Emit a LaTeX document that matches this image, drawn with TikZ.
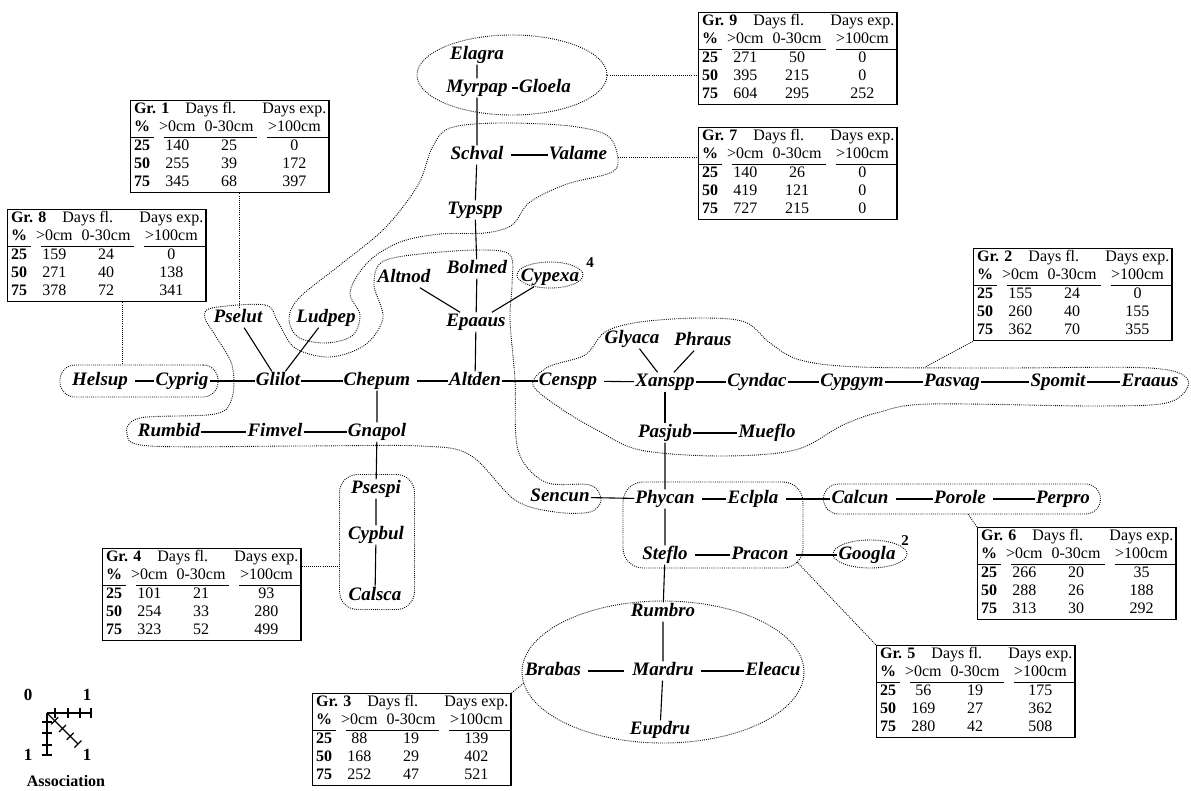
\documentclass[tikz,border=0pt]{standalone}
\usepackage{fontspec}
\setmainfont{Liberation Serif}
\usepackage{booktabs}
\usepackage{tikz}
\usetikzlibrary{shapes.geometric,calc}

% table of one group: number, then the rows for 25, 50 and 75 %
\newcommand{\grtab}[4]{%
  \setlength{\aboverulesep}{0pt}\setlength{\belowrulesep}{0pt}%
  \begin{tabular}{@{\hspace{3pt}}c@{\hspace{9pt}}c@{\hspace{9pt}}c@{\hspace{9pt}}c@{\hspace{2pt}}}
    \multicolumn{1}{@{\hspace{3pt}}l}{\rlap{\textbf{Gr. #1}}} & \multicolumn{2}{c}{Days fl.} & Days exp.\\
    \textbf{\%} & >0cm & 0-30cm & >100cm\\
    \cmidrule[1.3pt](r){1-1}\cmidrule[1.3pt](lr){2-3}\cmidrule[1.3pt](l){4-4}
    \textbf{25} & #2\\
    \textbf{50} & #3\\
    \textbf{75} & #4
  \end{tabular}}

\begin{document}
\begin{tikzpicture}[
    x=1pt, y=-1pt,
    sp/.style={font=\fontsize{19}{22}\selectfont\bfseries\itshape, inner sep=1pt, text height=13pt, text depth=4pt},
    sup/.style={font=\fontsize{15}{17}\selectfont\bfseries, inner sep=0pt},
    grtab/.style={draw, line width=1.1pt, inner sep=0.5pt, anchor=north west, font=\fontsize{16}{18}\selectfont},
    lnk/.style={line width=1.1pt},
    lgap/.style={shorten <=6pt},
    hull/.style={draw, line width=0.9pt, dash pattern=on 0.9pt off 1.2pt},
    lg/.style={font=\fontsize{17}{19}\selectfont\bfseries, inner sep=0pt}
]
\useasboundingbox (0,0) rectangle (1191,790);

% species
\node[sp] (Elagra) at (477,55) {Elagra};
\node[sp] (Myrpap) at (477,88) {Myrpap};
\node[sp] (Gloela) at (545,88) {Gloela};
\node[sp] (Schval) at (477,155) {Schval};
\node[sp] (Valame) at (578,155) {Valame};
\node[sp] (Typspp) at (475,210) {Typspp};
\node[sp] (Bolmed) at (477,269) {Bolmed};
\node[sp] (Altnod) at (404,278) {Altnod};
\node[sp] (Cypexa) at (550,277) {Cypexa};
\node[sup] (n4) at (590,263) {4};
\node[sp] (Epaaus) at (476,322) {Epaaus};
\node[sp] (Pselut) at (238,318) {Pselut};
\node[sp] (Ludpep) at (326,318) {Ludpep};
\node[sp] (Helsup) at (100,381) {Helsup};
\node[sp] (Cyprig) at (182,381) {Cyprig};
\node[sp] (Glilot) at (278,381) {Glilot};
\node[sp] (Chepum) at (377,381) {Chepum};
\node[sp] (Altden) at (475,381) {Altden};
\node[sp] (Censpp) at (568,381) {Censpp};
\node[sp] (Glyaca) at (632,339) {Glyaca};
\node[sp] (Phraus) at (703,341) {Phraus};
\node[sp] (Xanspp) at (665,382) {Xanspp};
\node[sp] (Cyndac) at (757,382) {Cyndac};
\node[sp] (Cypgym) at (852,382) {Cypgym};
\node[sp] (Pasvag) at (952,382) {Pasvag};
\node[sp] (Spomit) at (1058,382) {Spomit};
\node[sp] (Eraaus) at (1150,382) {Eraaus};
\node[sp] (Rumbid) at (169,432) {Rumbid};
\node[sp] (Fimvel) at (275,432) {Fimvel};
\node[sp] (Gnapol) at (377,432) {Gnapol};
\node[sp] (Pasjub) at (665,433) {Pasjub};
\node[sp] (Mueflo) at (767,433) {Mueflo};
\node[sp] (Psespi) at (376,489) {Psespi};
\node[sp] (Cypbul) at (376,535) {Cypbul};
\node[sp] (Calsca) at (375,596) {Calsca};
\node[sp] (Sencun) at (560,497) {Sencun};
\node[sp] (Phycan) at (665,499) {Phycan};
\node[sp] (Eclpla) at (753,499) {Eclpla};
\node[sp] (Calcun) at (860,499) {Calcun};
\node[sp] (Porole) at (960,499) {Porole};
\node[sp] (Perpro) at (1063,499) {Perpro};
\node[sp] (Steflo) at (665,555) {Steflo};
\node[sp] (Pracon) at (760,555) {Pracon};
\node[sp] (Googla) at (867,555) {Googla};
\node[sup] (n2) at (905,541) {2};
\node[sp] (Rumbro) at (663,612) {Rumbro};
\node[sp] (Brabas) at (553,671) {Brabas};
\node[sp] (Mardru) at (663,671) {Mardru};
\node[sp] (Eleacu) at (773,671) {Eleacu};
\node[sp] (Eupdru) at (660,730) {Eupdru};

% links
\draw[lnk] (Elagra) -- (Myrpap) -- (Schval) -- (Typspp) -- (Bolmed) -- (Epaaus) -- (Altden);
\draw[lnk, shorten <=3pt] (Myrpap) -- (Gloela);
\draw[lnk, lgap] (Schval) -- (Valame);
\draw[lnk] (Altnod) -- (Epaaus) -- (Cypexa);
\draw[lnk] (Pselut) -- (Glilot) -- (Ludpep);
\draw[lnk, lgap] (Helsup) -- (Cyprig);
\draw[lnk] (Cyprig) -- (Glilot) -- (Chepum);
\draw[lnk, lgap] (Chepum) -- (Altden);
\draw[lnk] (Altden) -- (Censpp);
\draw[lnk, lgap] (Censpp) -- (Xanspp);
\draw[lnk] (Xanspp) -- (Cyndac) -- (Cypgym) -- (Pasvag) -- (Spomit) -- (Eraaus);
\draw[lnk] (Glyaca) -- (Xanspp) -- (Phraus);
\draw[lnk] (Xanspp) -- (Pasjub) -- (Mueflo);
\draw[lnk] (Chepum) -- (Gnapol) -- (Psespi) -- (Cypbul) -- (Calsca);
\draw[lnk] (Rumbid) -- (Fimvel) -- (Gnapol);
\draw[lnk] (Pasjub) -- (Phycan) -- (Steflo) -- (Rumbro) -- (Mardru) -- (Eupdru);
\draw[lnk] (Sencun) -- (Phycan);
\draw[lnk, lgap] (Phycan) -- (Eclpla);
\draw[lnk, lgap] (Eclpla) -- (Calcun);
\draw[lnk, lgap] (Calcun) -- (Porole);
\draw[lnk, lgap] (Porole) -- (Perpro);
\draw[lnk, lgap] (Steflo) -- (Pracon);
\draw[lnk, lgap] (Pracon) -- (Googla);
\draw[lnk, lgap, shorten >=7pt] (Brabas) -- (Mardru);
\draw[lnk, lgap] (Mardru) -- (Eleacu);

% groups
\node[hull, ellipse, minimum width=190, minimum height=80] (e9) at (512,75) {};
\node[hull, ellipse, minimum width=282, minimum height=142] (e3) at (663,672) {};
\node[hull, ellipse, minimum width=66, minimum height=26] (eCy) at (550,275) {};
\node[hull, ellipse, minimum width=74, minimum height=28] (eGo) at (870,554) {};
\node[hull, rounded corners=20, minimum width=180, minimum height=86] (r5) at (713,525) {};
\node[hull, rounded corners=18, minimum width=75, minimum height=135] (r4) at (377,542) {};
\node[hull, rounded corners=15, minimum width=277, minimum height=30] (r6) at (962,499) {};
\node[hull, rounded corners=15, minimum width=158, minimum height=32] (r8) at (139,381) {};
\draw[hull] plot[smooth cycle, tension=0.55] coordinates {
    (618,160) (608,136) (570,126) (500,123) (450,128) (432,148) (418,185) (385,228)
    (340,265) (300,297) (289,318) (298,337) (325,343) (352,336) (360,315) (350,292)
    (368,262) (400,242) (440,234) (485,233) (512,225) (530,202) (567,184) (610,173)};
\draw[hull] plot[smooth cycle, tension=0.55] coordinates {
    (212,308) (265,305) (278,322) (295,348) (330,357) (365,345) (383,318) (374,285)
    (382,262) (420,254) (480,250) (510,255) (512,285) (510,320) (515,380) (518,450)
    (545,482) (590,485) (601,500) (590,512) (555,512) (515,500) (470,455) (420,446)
    (300,446) (150,446) (127,434) (140,418) (215,414) (232,398) (232,365) (215,335)
    (205,318)};
\draw[hull] plot[smooth cycle, tension=0.55] coordinates {
    (533,385) (548,367) (585,355) (605,332) (640,322) (700,318) (745,322) (770,343)
    (800,360) (860,367) (1000,368) (1150,368) (1188,380) (1170,402) (1100,406)
    (930,404) (880,412) (843,425) (795,450) (720,456) (640,450) (597,430) (560,408)};

% tables
\node[grtab] (g9) at (698,12) {\grtab{9}{271 & 50 & 0}{395 & 215 & 0}{604 & 295 & 252}};
\node[grtab] (g7) at (698,127) {\grtab{7}{140 & 26 & 0}{419 & 121 & 0}{727 & 215 & 0}};
\node[grtab] (g1) at (130,100) {\grtab{1}{140 & 25 & 0}{255 & 39 & 172}{345 & 68 & 397}};
\node[grtab] (g8) at (7,209) {\grtab{8}{159 & 24 & 0}{271 & 40 & 138}{378 & 72 & 341}};
\node[grtab] (g2) at (973,248) {\grtab{2}{155 & 24 & 0}{260 & 40 & 155}{362 & 70 & 355}};
\node[grtab] (g6) at (977,527) {\grtab{6}{266 & 20 & 35}{288 & 26 & 188}{313 & 30 & 292}};
\node[grtab] (g5) at (876,645) {\grtab{5}{56 & 19 & 175}{169 & 27 & 362}{280 & 42 & 508}};
\node[grtab] (g4) at (102,548) {\grtab{4}{101 & 21 & 93}{254 & 33 & 280}{323 & 52 & 499}};
\node[grtab] (g3) at (312,693) {\grtab{3}{88 & 19 & 139}{168 & 29 & 402}{252 & 47 & 521}};

% leaders
\coordinate (l7) at (618,157);
\coordinate (l1) at (239,307);
\coordinate (l8) at (122,365);
\coordinate (l2) at (925,367);
\coordinate (l6) at (968,514);
\coordinate (l5) at (797,562);
\coordinate (l4) at (340,566);
\coordinate (l3) at (524,683);
\draw[hull] (e9.east) -- (e9.east -| g9.west);
\draw[hull] (l7) -- (l7 -| g7.west);
\draw[hull] (g1.south -| l1) -- (l1);
\draw[hull] (g8.south -| l8) -- (l8);
\draw[hull] (g2.south west) -- (l2);
\draw[hull] (l6) -- (g6.north west);
\draw[hull] (l5) -- (g5.north west);
\draw[hull] (g4.east |- l4) -- (l4);
\draw[hull] (g3.north east) -- (l3);

% association scale
\coordinate (o) at (47,713);
\coordinate (d) at (78,744);
\draw[lnk] (o) -- (91,713);
\draw[lnk] (o) -- (47,755);
\draw[lnk] (o) -- (d);
\foreach \t in {55,68,80,91} \draw[lnk] (\t,708) -- (\t,718);
\foreach \t in {722,733,745,755} \draw[lnk] (42,\t) -- (52,\t);
\foreach \t in {0.25,0.5,0.75,1} \draw[lnk] ($(o)!\t!(d)+(3.5,-3.5)$) -- ($(o)!\t!(d)+(-3.5,3.5)$);
\node[lg] (a0) at (28,695) {0};
\node[lg] (a1) at (87,695) {1};
\node[lg] (a2) at (28,755) {1};
\node[lg] (a3) at (87,755) {1};
\node[lg, font=\fontsize{16}{18}\selectfont\bfseries] (asc) at (66,781) {Association};
\end{tikzpicture}
\end{document}
